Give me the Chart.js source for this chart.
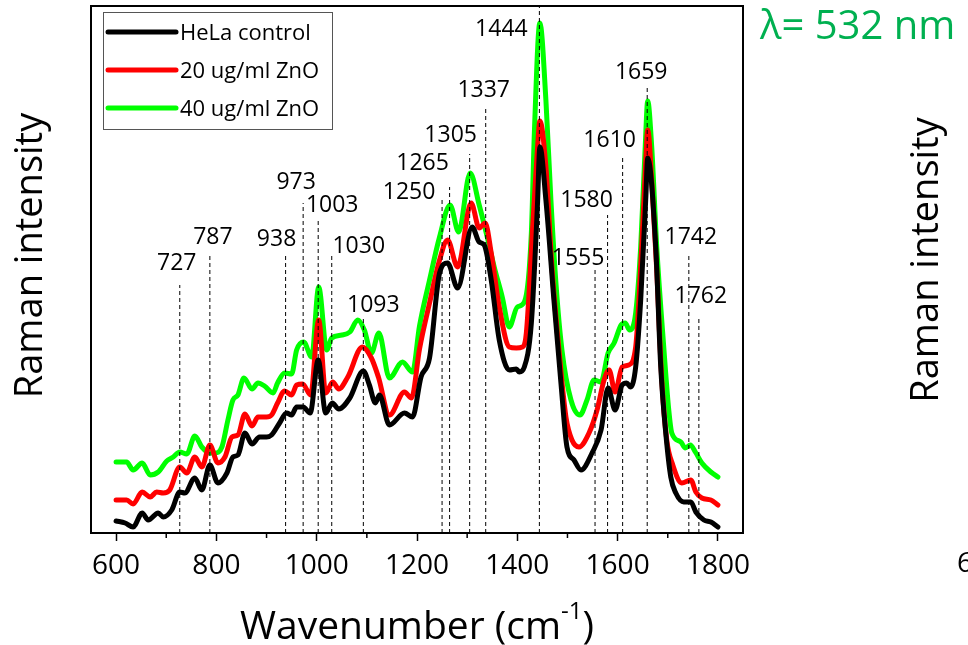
<!DOCTYPE html>
<html>
<head>
<meta charset="utf-8">
<script src="https://cdn.jsdelivr.net/npm/chart.js@4.4.1/dist/chart.umd.min.js"></script>
<style>
  html, body { margin: 0; padding: 0; background: #fff; }
  #wrap { width: 968px; height: 645px; position: relative; }
</style>
</head>
<body>
<div id="wrap"><canvas id="raman"></canvas></div>
<script>
// spectra (wavenumber in cm-1, intensity in arbitrary units)
const controlWn = [600, 618, 634, 652, 664, 684, 694, 711, 727, 737, 757, 771, 787, 803, 821, 833, 843, 857, 871, 886, 900, 910, 926, 940, 950, 960, 973, 987, 1003, 1018, 1031, 1044, 1066, 1093, 1105, 1117, 1125, 1145, 1175, 1191, 1208, 1225, 1245, 1261, 1281, 1310, 1324, 1334, 1348, 1364, 1384, 1398, 1404, 1414, 1428, 1440, 1445, 1457, 1473, 1487, 1499, 1513, 1527, 1549, 1567, 1581, 1595, 1609, 1618, 1626, 1636, 1646, 1656, 1660, 1676, 1686, 1696, 1706, 1716, 1732, 1746, 1756, 1772, 1786, 1800];
const controlInt = [12, 10, 6, 20, 13, 20, 16, 23, 41, 40, 55, 43, 68, 50, 60, 76, 78, 100, 89, 96, 96, 98, 110, 120, 118, 126, 126, 120, 173, 120, 130, 124, 135, 162, 148, 130, 138, 108, 120, 116, 156, 175, 260, 270, 245, 306, 291, 288, 253, 193, 163, 164, 161, 166, 210, 326, 386, 333, 233, 150, 86, 73, 63, 80, 103, 145, 123, 148, 150, 146, 166, 233, 333, 375, 286, 166, 100, 56, 40, 31, 31, 21, 13, 11, 6];

const zno20Wn = [600, 621, 634, 652, 668, 681, 694, 707, 727, 741, 757, 771, 787, 803, 817, 831, 843, 857, 871, 883, 900, 910, 922, 936, 950, 960, 972, 988, 1004, 1018, 1032, 1044, 1062, 1091, 1109, 1123, 1145, 1175, 1189, 1205, 1225, 1245, 1261, 1281, 1308, 1324, 1336, 1348, 1364, 1384, 1398, 1410, 1418, 1430, 1440, 1445, 1457, 1469, 1483, 1497, 1509, 1523, 1543, 1559, 1573, 1583, 1595, 1609, 1622, 1636, 1648, 1656, 1660, 1668, 1678, 1688, 1698, 1710, 1728, 1746, 1756, 1768, 1786, 1800];
const zno20Int = [33, 33, 29, 41, 36, 41, 40, 43, 66, 60, 76, 66, 88, 70, 76, 96, 98, 119, 107, 116, 116, 118, 130, 142, 138, 148, 149, 138, 213, 140, 151, 144, 156, 186, 175, 156, 118, 141, 135, 184, 230, 273, 293, 266, 330, 305, 310, 280, 226, 186, 185, 186, 200, 300, 383, 412, 366, 266, 183, 116, 93, 86, 100, 123, 153, 163, 141, 166, 168, 186, 286, 370, 403, 353, 263, 153, 93, 68, 50, 53, 41, 35, 33, 28];

const zno40Wn = [600, 621, 634, 652, 668, 684, 701, 714, 727, 741, 757, 771, 787, 797, 811, 823, 833, 843, 855, 871, 883, 896, 913, 922, 936, 950, 960, 974, 990, 1004, 1020, 1030, 1050, 1066, 1082, 1095, 1109, 1124, 1145, 1171, 1191, 1205, 1225, 1245, 1266, 1283, 1306, 1324, 1340, 1354, 1370, 1384, 1400, 1414, 1428, 1434, 1445, 1457, 1467, 1477, 1489, 1507, 1525, 1539, 1553, 1567, 1581, 1593, 1607, 1615, 1624, 1636, 1646, 1655, 1660, 1668, 1678, 1692, 1702, 1708, 1726, 1735, 1745, 1755, 1768, 1786, 1800];
const zno40Int = [71, 71, 63, 70, 58, 61, 72, 76, 81, 79, 97, 86, 80, 80, 86, 113, 133, 138, 155, 144, 150, 147, 140, 150, 160, 159, 183, 191, 176, 246, 183, 195, 198, 201, 213, 203, 180, 200, 155, 171, 161, 207, 253, 296, 328, 301, 360, 328, 296, 266, 236, 206, 226, 231, 300, 400, 510, 433, 333, 250, 183, 133, 118, 133, 153, 151, 180, 190, 208, 210, 203, 220, 286, 386, 432, 386, 286, 186, 123, 100, 91, 85, 88, 81, 70, 61, 56];

const seriesNames = ['HeLa control', '20 ug/ml ZnO', '40 ug/ml ZnO'];

// assigned bands and the height where each marker line stops
const peakWn = [727, 787, 938, 973, 1003, 1030, 1093, 1250, 1265, 1305, 1337, 1444, 1555, 1580, 1610, 1659, 1742, 1762];
const peakTop = [248, 278, 278, 330, 312, 278, 217, 333, 346, 379, 425, 527, 265, 318, 377, 446, 279, 215];

const xMajorTicks = [600, 800, 1000, 1200, 1400, 1600, 1800];
const xTickLabels = ['600', '800', '1000', '1200', '1400', '1600', '1800'];
const xMinorTicks = [700, 900, 1100, 1300, 1500, 1700];

// label placement (pixels from top of each marker line)
const labelShift = [[-3, -22], [3, -18], [-9, -16], [-7, -21], [14, -16], [27, -9], [10, -11], [-33, -8], [-27, -24], [-19, -19], [-2, -18], [-38, 23], [-17, -10], [-21, -15], [-13, -16], [-6, -15], [2, -17], [2, -22]];

const FONT = '"Open Sans", sans-serif';
const colors = ['#000000', '#ff0000', '#00ff00'];

function pairs(xs, ys) {
  return xs.map((v, i) => ({ x: v, y: ys[i] }));
}

const markerData = [];
peakWn.forEach((wn, i) => {
  markerData.push({ x: wn, y: 0 }, { x: wn, y: peakTop[i] }, { x: wn, y: null });
});

const curveStyle = {
  borderWidth: 5,
  pointRadius: 0,
  fill: false,
  cubicInterpolationMode: 'monotone',
  borderJoinStyle: 'round',
  borderCapStyle: 'round',
};

const extras = {
  id: 'extras',
  afterDraw(chart) {
    const { ctx, chartArea: a, scales } = chart;
    const x = scales.x;
    const y = scales.y;
    ctx.save();

    // frame
    ctx.strokeStyle = '#000';
    ctx.lineWidth = 2;
    ctx.strokeRect(a.left, a.top, a.right - a.left, a.bottom - a.top);

    // minor ticks
    ctx.lineWidth = 1.5;
    xMinorTicks.forEach((v) => {
      const px = x.getPixelForValue(v);
      ctx.beginPath();
      ctx.moveTo(px, a.bottom);
      ctx.lineTo(px, a.bottom + 5);
      ctx.stroke();
    });

    // band labels
    ctx.fillStyle = '#000';
    ctx.font = '23px ' + FONT;
    ctx.textAlign = 'center';
    ctx.textBaseline = 'middle';
    peakWn.forEach((wn, i) => {
      const px = x.getPixelForValue(wn) + labelShift[i][0];
      const py = y.getPixelForValue(peakTop[i]) + labelShift[i][1];
      ctx.fillText(String(wn), px, py);
    });

    // legend
    const lx = a.left + 12, ly = a.top + 6;
    ctx.strokeStyle = '#555';
    ctx.lineWidth = 1;
    ctx.strokeRect(lx + 0.5, ly + 0.5, 229, 117);
    ctx.font = '22px ' + FONT;
    ctx.textAlign = 'left';
    chart.data.datasets.slice(0, 3).forEach((ds, i) => {
      const yy = ly + 20 + i * 38;
      ctx.strokeStyle = ds.borderColor;
      ctx.lineWidth = 5;
      ctx.lineCap = 'round';
      ctx.beginPath();
      ctx.moveTo(lx + 5, yy);
      ctx.lineTo(lx + 73, yy);
      ctx.stroke();
      ctx.fillStyle = '#000';
      ctx.fillText(ds.label, lx + 77, yy + 2);
    });

    // axis titles
    ctx.fillStyle = '#000';
    ctx.save();
    ctx.translate(31, (a.top + a.bottom) / 2 - 14);
    ctx.rotate(-Math.PI / 2);
    ctx.font = '38px ' + FONT;
    ctx.textAlign = 'center';
    ctx.fillText('Raman intensity', 0, 0);
    ctx.restore();

    ctx.textAlign = 'left';
    ctx.textBaseline = 'alphabetic';
    const big = '39px ' + FONT, small = '24px ' + FONT;
    ctx.font = big;
    const w1 = ctx.measureText('Wavenumber (cm').width;
    const w3 = ctx.measureText(')').width;
    ctx.font = small;
    const w2 = ctx.measureText('-1').width;
    let tx = (a.left + a.right) / 2 - (w1 + w2 + w3) / 2;
    const base = 639;
    ctx.font = big;
    ctx.fillText('Wavenumber (cm', tx, base);
    ctx.font = small;
    ctx.fillText('-1', tx + w1, base - 20);
    ctx.font = big;
    ctx.fillText(')', tx + w1 + w2, base);

    // laser line note and the edge of the neighbouring panel
    ctx.fillStyle = '#00b050';
    ctx.font = '40px ' + FONT;
    ctx.textBaseline = 'middle';
    ctx.fillText('\u03bb= 532 nm', 760, 28);

    ctx.fillStyle = '#000';
    ctx.save();
    ctx.translate(927, 260);
    ctx.rotate(-Math.PI / 2);
    ctx.font = '38px ' + FONT;
    ctx.textAlign = 'center';
    ctx.fillText('Raman intensity', 0, 0);
    ctx.restore();
    ctx.font = '28px ' + FONT;
    ctx.fillText('600', 957, 564);

    ctx.restore();
  },
};

new Chart(document.getElementById('raman'), {
  type: 'line',
  data: {
    datasets: [
      { label: seriesNames[0], data: pairs(controlWn, controlInt), borderColor: colors[0], order: 2, ...curveStyle },
      { label: seriesNames[1], data: pairs(zno20Wn, zno20Int), borderColor: colors[1], order: 3, ...curveStyle },
      { label: seriesNames[2], data: pairs(zno40Wn, zno40Int), borderColor: colors[2], order: 4, ...curveStyle },
      {
        label: 'bands',
        data: markerData,
        borderColor: '#000',
        borderWidth: 1,
        borderDash: [4, 3],
        pointRadius: 0,
        spanGaps: false,
        tension: 0,
        order: 1,
      },
    ],
  },
  options: {
    responsive: true,
    maintainAspectRatio: false,
    animation: false,
    layout: { padding: { left: 91, top: 6, right: 225, bottom: 0 } },
    plugins: { legend: { display: false }, tooltip: { enabled: false } },
    scales: {
      x: {
        type: 'linear',
        min: 550,
        max: 1850,
        afterBuildTicks: (scale) => {
          scale.ticks = xMajorTicks.map((v) => ({ value: v }));
        },
        afterFit: (scale) => {
          scale.height = 112;
        },
        ticks: {
          autoSkip: false,
          maxRotation: 0,
          padding: 8,
          color: '#000',
          font: { family: FONT, size: 28 },
          callback: (v) => xTickLabels[xMajorTicks.indexOf(v)] ?? '',
        },
        grid: {
          drawOnChartArea: false,
          tickLength: 8,
          tickWidth: 1.5,
          tickColor: '#000',
        },
        border: { display: true, color: '#000', width: 2 },
      },
      y: {
        display: false,
        min: 0,
        max: 527,
      },
    },
  },
  plugins: [extras],
});
</script>
</body>
</html>
